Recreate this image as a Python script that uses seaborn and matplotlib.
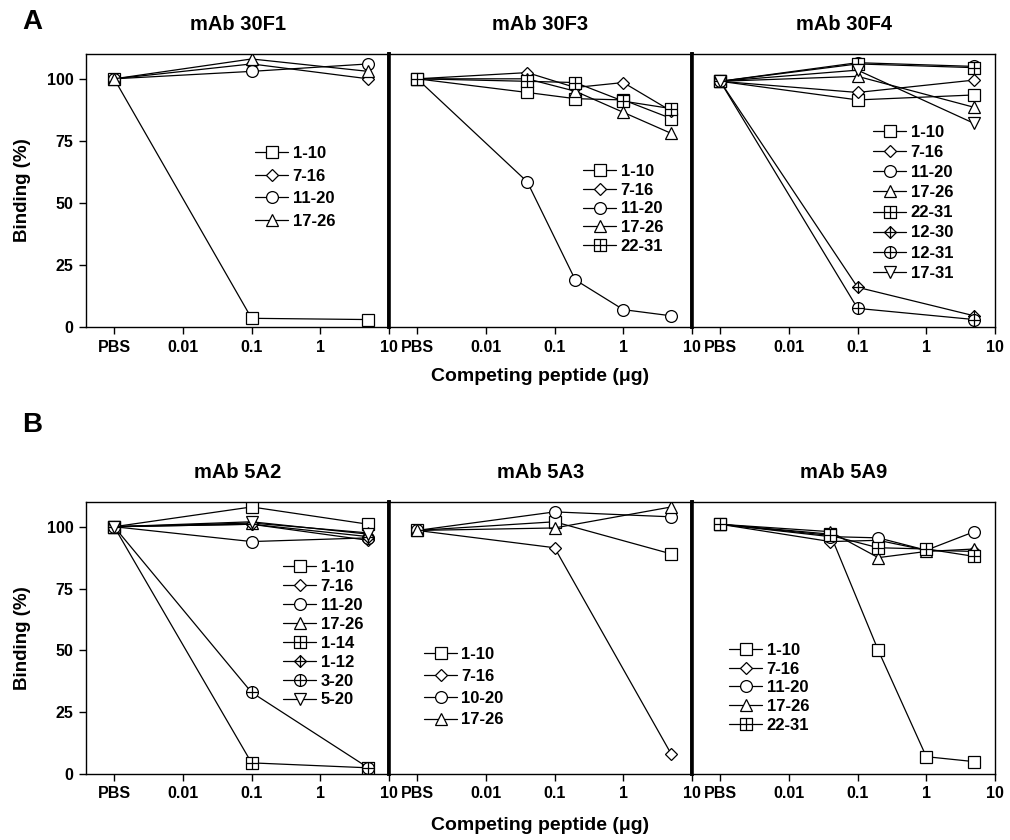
import numpy as np
import matplotlib
matplotlib.use("Agg")
import matplotlib.pyplot as plt
import seaborn as sns
from matplotlib.path import Path

# ---------------- data ----------------
PBS = 0.001  # position where the PBS control is drawn on the log axis
tick_values = [0.001, 0.01, 0.1, 1, 10]
tick_labels = ["PBS", "0.01", "0.1", "1", "10"]

# Panel A: mAb 30F1
dose_30F1 = [PBS, 0.1, 5]
labels_30F1 = ["1-10", "7-16", "11-20", "17-26"]
binding_30F1 = [
    [100, 3.5, 3],
    [100, 106, 100],
    [100, 103, 106],
    [100, 108, 103],
]

# Panel A: mAb 30F3
dose_30F3 = [PBS, 0.04, 0.2, 1, 5]
labels_30F3 = ["1-10", "7-16", "11-20", "17-26", "22-31"]
binding_30F3 = [
    [100, 94.5, 92, 91.5, 84],
    [100, 102.5, 96.5, 98.5, 87],
    [100, 58.5, 19, 7, 4.5],
    [100, 100, 95, 86.5, 78],
    [100, 99, 98.5, 91, 88],
]

# Panel A: mAb 30F4
dose_30F4 = [PBS, 0.1, 5]
labels_30F4 = ["1-10", "7-16", "11-20", "17-26", "22-31", "12-30", "12-31", "17-31"]
binding_30F4 = [
    [99, 91.5, 93.5],
    [99, 94.5, 99.5],
    [99, 106.5, 105],
    [99, 101, 88.5],
    [99, 106, 104.5],
    [99, 16, 4.5],
    [99, 7.5, 3],
    [99, 103.5, 82],
]

# Panel B: mAb 5A2
dose_5A2 = [PBS, 0.1, 5]
labels_5A2 = ["1-10", "7-16", "11-20", "17-26", "1-14", "1-12", "3-20", "5-20"]
binding_5A2 = [
    [100, 108, 101],
    [100, 101, 94.5],
    [100, 94, 95.5],
    [100, 101.5, 97.5],
    [100, 4.5, 2.5],
    [100, 101, 96],
    [100, 33, 2.5],
    [100, 102, 97],
]

# Panel B: mAb 5A3
dose_5A3 = [PBS, 0.1, 5]
labels_5A3 = ["1-10", "7-16", "10-20", "17-26"]
binding_5A3 = [
    [98.5, 102, 89],
    [98.5, 91.5, 8],
    [98.5, 106, 104],
    [98.5, 99.5, 108],
]

# Panel B: mAb 5A9
dose_5A9 = [PBS, 0.04, 0.2, 1, 5]
labels_5A9 = ["1-10", "7-16", "11-20", "17-26", "22-31"]
binding_5A9 = [
    [101, 97, 50, 7, 5],
    [101, 94, 94.5, 90.5, 90],
    [101, 96, 95.5, 90.5, 98],
    [101, 98, 87.5, 90, 91],
    [101, 96.5, 91.5, 91, 88],
]

# ---------------- style ----------------
sns.set_style("ticks")
plt.rcParams["font.family"] = ["Liberation Sans", "DejaVu Sans"]
plt.rcParams["font.weight"] = "bold"
plt.rcParams["axes.labelweight"] = "bold"
plt.rcParams["axes.titleweight"] = "bold"
plt.rcParams["text.color"] = "black"
plt.rcParams["axes.labelcolor"] = "black"
plt.rcParams["xtick.color"] = "black"
plt.rcParams["ytick.color"] = "black"

M = Path.MOVETO
L = Path.LINETO
C = Path.CLOSEPOLY
square_plus = Path([(-1, -1), (1, -1), (1, 1), (-1, 1), (-1, -1),
                    (-1, 0), (1, 0), (0, -1), (0, 1)],
                   [M, L, L, L, C, M, L, M, L])
diamond_plus = Path([(0, -1), (1, 0), (0, 1), (-1, 0), (0, -1),
                     (-1, 0), (1, 0), (0, -1), (0, 1)],
                    [M, L, L, L, C, M, L, M, L])
circle_plus = Path.make_compound_path(Path.unit_circle(),
                                      Path([(-1, 0), (1, 0)]),
                                      Path([(0, -1), (0, 1)]))

marker_of = {
    "1-10": ("s", 8.3), "7-16": ("D", 6.5), "11-20": ("o", 8.5), "10-20": ("o", 8.5),
    "17-26": ("^", 8.5), "22-31": (square_plus, 8.0), "1-14": (square_plus, 8.0),
    "12-30": (diamond_plus, 8.5), "1-12": (diamond_plus, 8.5),
    "12-31": (circle_plus, 8.5), "3-20": (circle_plus, 8.5),
    "17-31": ("v", 8.5), "5-20": ("v", 8.5),
}

W, H = 1010, 840
fig = plt.figure(figsize=(W / 100, H / 100), dpi=100)


def rect(l, t, r, b):
    return [l / W, 1 - b / H, (r - l) / W, (b - t) / H]


cols = [(86, 389), (389, 692), (692, 995)]
rows = [(54, 327), (502, 774)]

panels = [
    ("mAb 30F1", dose_30F1, labels_30F1, binding_30F1, 0, 0, (255, 146), 0.455),
    ("mAb 30F3", dose_30F3, labels_30F3, binding_30F3, 0, 1, (583, 164), 0.22),
    ("mAb 30F4", dose_30F4, labels_30F4, binding_30F4, 0, 2, (873, 125), 0.305),
    ("mAb 5A2", dose_5A2, labels_5A2, binding_5A2, 1, 0, (283, 560), 0.235),
    ("mAb 5A3", dose_5A3, labels_5A3, binding_5A3, 1, 1, (424, 647), 0.41),
    ("mAb 5A9", dose_5A9, labels_5A9, binding_5A9, 1, 2, (729, 643), 0.22),
]

for title, dose, labels, values, r, c, leg_xy, lspace in panels:
    t, b = rows[r]
    l, rr = cols[c]
    ax = fig.add_axes(rect(l, t, rr, b))
    ax.set_xscale("log")
    for lab, ys in zip(labels, values):
        mk, ms = marker_of[lab]
        sns.lineplot(x=dose, y=ys, ax=ax, color="black", linewidth=0.9,
                     marker=mk, markersize=ms, markerfacecolor="white",
                     markeredgecolor="black", markeredgewidth=0.9,
                     estimator=None, sort=False, label=lab, legend=False)
    ax.set_xlim(10 ** -3.41, 10)
    ax.set_ylim(0, 110)
    ax.set_xticks(tick_values)
    ax.set_xticklabels(tick_labels)
    ax.minorticks_off()
    ax.tick_params(axis="both", direction="out", length=5, width=1,
                   labelsize=11.5, pad=4, colors="black")
    for sp in ax.spines.values():
        sp.set_visible(True)
        sp.set_color("black")
        sp.set_linewidth(1.0)
    if c == 0:
        ax.set_yticks([0, 25, 50, 75, 100])
        ax.set_ylabel("Binding (%)", fontsize=13.5, labelpad=11)
    else:
        ax.set_yticks([])
        ax.spines["left"].set_linewidth(2.6)
    if c < 2:
        ax.spines["right"].set_linewidth(2.6)
    ax.set_title(title, fontsize=14.5, pad=17)
    ax.set_facecolor("white")
    leg = ax.legend(handles=ax.get_lines(), loc="upper left",
                    bbox_to_anchor=(leg_xy[0] / W, 1 - leg_xy[1] / H),
                    bbox_transform=fig.transFigure, frameon=False,
                    fontsize=12, handlelength=2.0, handletextpad=0.25,
                    labelspacing=lspace, borderpad=0, borderaxespad=0)

for y in (377, 826):
    fig.text(540 / W, 1 - y / H, "Competing peptide (\u03bcg)", ha="center",
             va="center", fontsize=14, fontweight="bold")

fig.text(22 / W, 1 - 22 / H, "A", fontsize=20, fontweight="bold", va="center", ha="left")
fig.text(22 / W, 1 - 425 / H, "B", fontsize=20, fontweight="bold", va="center", ha="left")

fig.savefig("out.png", dpi=100, facecolor="white")
